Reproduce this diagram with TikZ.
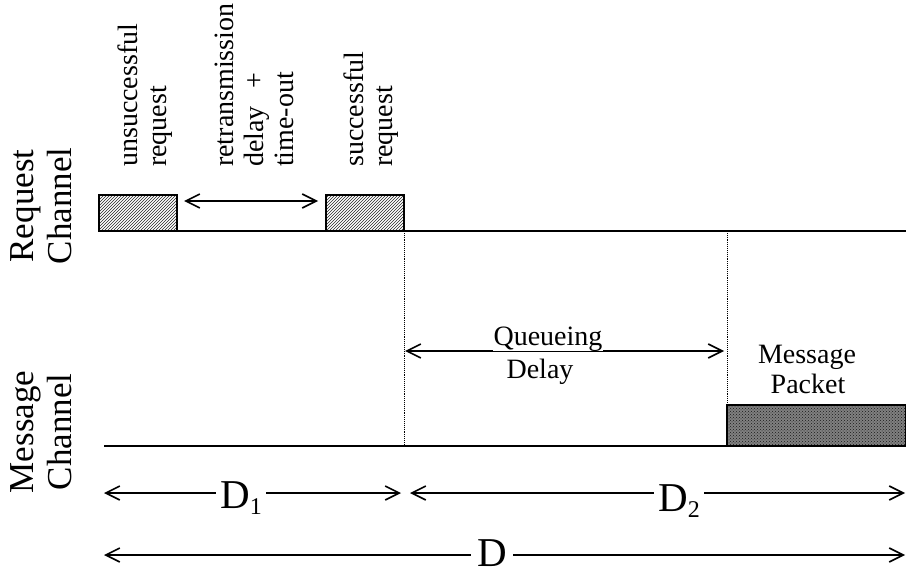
\documentclass[tikz,border=0pt]{standalone}
\usepackage{fontspec}
\setmainfont{Liberation Serif}
\usetikzlibrary{patterns,arrows.meta}
\tikzset{
  base line/.style={line width=2.2pt},
  dbl/.style={line width=1.6pt, {Straight Barb[length=14pt,width=14pt]}-{Straight Barb[length=14pt,width=14pt]}},
  guide/.style={densely dotted, line width=0.9pt},
  reqbox/.style={line width=1.3pt, pattern=north east lines, pattern color=black!85},
  pktbox/.style={line width=1.3pt, preaction={fill=black!50}, pattern=crosshatch dots, pattern color=black!90},
  vlbl/.style={rotate=90, anchor=base west, inner sep=0pt, font=\fontsize{28}{30}\selectfont},
  chlbl/.style={rotate=90, anchor=base, inner sep=0pt, font=\fontsize{35}{38}\selectfont},
  hlbl/.style={anchor=base, inner sep=0pt, font=\fontsize{28}{30}\selectfont},
  dlbl/.style={anchor=base west, fill=white, inner xsep=4pt, inner ysep=0pt, font=\fontsize{41}{42}\selectfont},
}
\newcommand{\subnum}[1]{\raisebox{-6pt}{\fontsize{24}{24}\selectfont #1}}
\begin{document}
\begin{tikzpicture}[x=1pt,y=-1pt]
\useasboundingbox (0,0) rectangle (906,575);

% channel labels
\node[chlbl] (rq) at (33,206) {Request};
\node[chlbl] (rc) at (71,206) {Channel};
\node[chlbl] (mq) at (33,432) {Message};
\node[chlbl] (mc) at (71,432) {Channel};

% request channel
\coordinate (rs) at (99,231);
\coordinate (re) at (906,231);
\draw[base line] (rs) -- (re);
\draw[reqbox] (99,195) rectangle (177,231);
\draw[reqbox] (326,195) rectangle (404,231);
\coordinate (ra) at (184,201);
\coordinate (rb) at (318,201);
\draw[dbl] (ra) -- (rb);

% top labels
\node[vlbl] (u1) at (137,167) {unsuccessful};
\node[vlbl] (u2) at (166,167) {request};
\node[vlbl] (t1) at (233,167) {retransmission};
\node[vlbl] (t2) at (263,167) {delay};
\node[rotate=90, anchor=base, inner sep=0pt, font=\fontsize{28}{30}\selectfont] (tp) at (263,81) {+};
\node[vlbl] (t3) at (293,167) {time-out};
\node[vlbl] (s1) at (363,167) {successful};
\node[vlbl] (s2) at (392,167) {request};

% message channel
\coordinate (ms) at (104,446);
\coordinate (me) at (906,446);
\draw[base line] (ms) -- (me);
\draw[pktbox] (727,405) rectangle (906,446);

% dotted guides
\coordinate (g1a) at (404,231);
\coordinate (g1b) at (404,446);
\coordinate (g2a) at (727,231);
\coordinate (g2b) at (727,405);
\draw[guide] (g1a) -- (g1b);
\draw[guide] (g2a) -- (g2b);

% queueing delay
\coordinate (qa) at (405,351);
\coordinate (qb) at (724,351);
\draw[dbl] (qa) -- (qb);
\node[hlbl, fill=white, inner xsep=0.5pt] (qq) at (548,345) {Queueing};
\node[hlbl] (qd) at (540,378) {Delay};

% message packet label
\node[hlbl] (mp1) at (807,363) {Message};
\node[hlbl] (mp2) at (808,393) {Packet};

% D arrows
\coordinate (d1a) at (104,493);
\coordinate (d1b) at (401,493);
\coordinate (d2a) at (410,493);
\coordinate (d2b) at (905,493);
\coordinate (da) at (104,555);
\coordinate (db) at (905,555);
\draw[dbl] (d1a) -- (d1b);
\draw[dbl] (d2a) -- (d2b);
\draw[dbl] (da) -- (db);
\node[dlbl] (D1) at (216,508) {D\subnum{1}};
\node[dlbl] (D2) at (654,511) {D\subnum{2}};
\node[dlbl, inner xsep=6pt] (D) at (471,566) {D};
\end{tikzpicture}
\end{document}
